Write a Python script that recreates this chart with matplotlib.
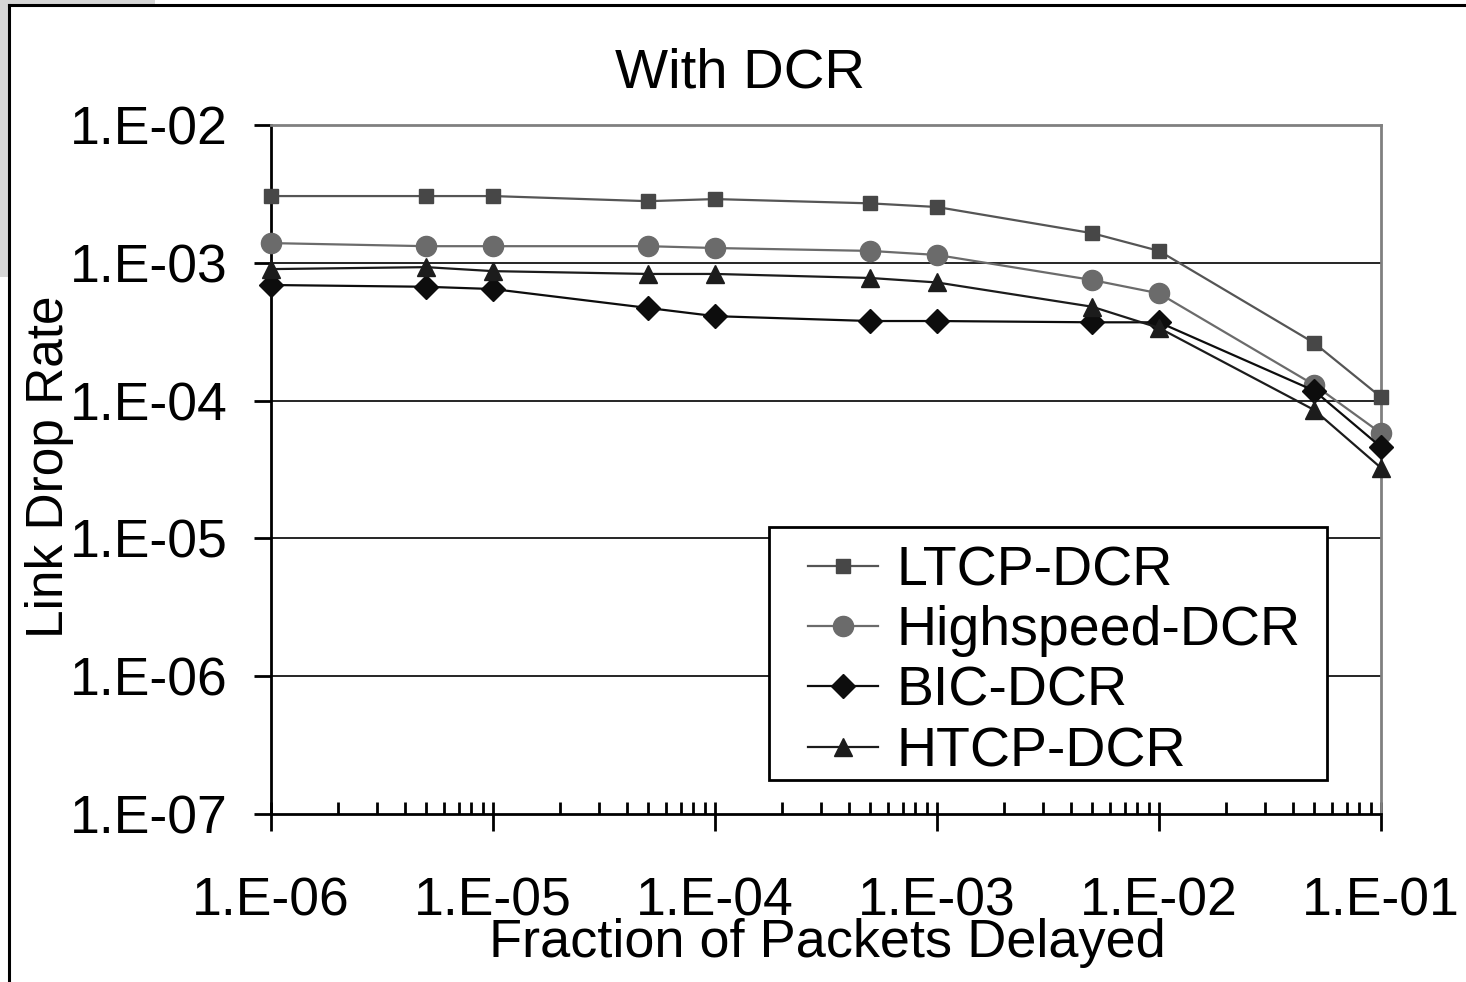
import matplotlib
matplotlib.use('Agg')
import matplotlib.pyplot as plt
from matplotlib.ticker import FixedLocator, NullFormatter, NullLocator
from matplotlib.patches import Rectangle
from matplotlib.lines import Line2D
import numpy as np

plt.rcParams['font.family'] = ['Liberation Sans', 'DejaVu Sans']

# fraction of packets delayed
frac_delayed = [1e-6, 5e-6, 1e-5, 5e-5, 1e-4, 5e-4, 1e-3, 5e-3, 1e-2, 5e-2, 1e-1]

# link drop rate per protocol
ltcp = [3.05e-3, 3.05e-3, 3.05e-3, 2.8e-3, 2.9e-3, 2.7e-3, 2.54e-3, 1.64e-3, 1.22e-3, 2.62e-4, 1.06e-4]
highspeed = [1.39e-3, 1.32e-3, 1.32e-3, 1.32e-3, 1.28e-3, 1.22e-3, 1.14e-3, 7.5e-4, 6.0e-4, 1.3e-4, 5.8e-5]
bic = [6.9e-4, 6.7e-4, 6.45e-4, 4.7e-4, 4.1e-4, 3.78e-4, 3.78e-4, 3.7e-4, 3.7e-4, 1.18e-4, 4.6e-5]
htcp = [9.0e-4, 9.3e-4, 8.7e-4, 8.3e-4, 8.3e-4, 7.76e-4, 7.2e-4, 4.8e-4, 3.37e-4, 8.55e-5, 3.25e-5]

x_ticks = [1e-6, 1e-5, 1e-4, 1e-3, 1e-2, 1e-1]
x_tick_labels = ['1.E-06', '1.E-05', '1.E-04', '1.E-03', '1.E-02', '1.E-01']
y_ticks = [1e-7, 1e-6, 1e-5, 1e-4, 1e-3, 1e-2]
y_tick_labels = ['1.E-07', '1.E-06', '1.E-05', '1.E-04', '1.E-03', '1.E-02']

W, H = 1466, 982
fig = plt.figure(figsize=(W / 100, H / 100), dpi=100)

# screenshot frame bits
fig.patches.append(Rectangle((0, 1 - 5 / H), 155 / W, 5 / H, transform=fig.transFigure,
                             facecolor='#d6d6d6', edgecolor='none'))
fig.patches.append(Rectangle((0, 1 - 277 / H), 8 / W, 277 / H, transform=fig.transFigure,
                             facecolor='#d6d6d6', edgecolor='none'))
fig.lines.append(Line2D([9 / W, 9 / W], [0, 1 - 5 / H], transform=fig.transFigure, color='black', lw=2.2))
fig.lines.append(Line2D([9 / W, 1], [1 - 5 / H, 1 - 5 / H], transform=fig.transFigure, color='black', lw=2.2))

ax = fig.add_axes([271 / W, 1 - 814 / H, (1381 - 271) / W, (814 - 125) / H])
ax.set_xscale('log')
ax.set_yscale('log')
ax.set_xlim(1e-6, 1e-1)
ax.set_ylim(1e-7, 1e-2)

series = [
    ('LTCP-DCR', ltcp, 's', '#474747', '#555555', 10.5),
    ('Highspeed-DCR', highspeed, 'o', '#6b6b6b', '#6b6b6b', 14.5),
    ('BIC-DCR', bic, 'D', '#0d0d0d', '#0d0d0d', 12.5),
    ('HTCP-DCR', htcp, '^', '#1c1c1c', '#1c1c1c', 13.5),
]
for name, vals, mk, mc, lc, ms in series:
    ax.plot(frac_delayed, vals, color=lc, lw=1.6, marker=mk, markersize=ms,
            markerfacecolor=mc, markeredgecolor=mc, label=name, clip_on=False, zorder=3)

# grid
for yv in y_ticks[1:-1]:
    ax.axhline(yv, color='black', lw=1.2, zorder=1)

ax.spines['top'].set_color('#808080')
ax.spines['right'].set_color('#808080')
for s in ['top', 'right']:
    ax.spines[s].set_linewidth(2)
for s in ['left', 'bottom']:
    ax.spines[s].set_linewidth(2)
    ax.spines[s].set_color('black')

ax.xaxis.set_major_locator(FixedLocator(x_ticks))
ax.set_xticklabels(x_tick_labels)
minor_x = []
for d in x_ticks[:-1]:
    minor_x += [d * k for k in range(1, 10)]
minor_x.append(1e-1)
ax.xaxis.set_minor_locator(FixedLocator(minor_x))
ax.xaxis.set_minor_formatter(NullFormatter())
ax.xaxis.remove_overlapping_locs = False
ax.tick_params(axis='x', which='major', direction='out', length=12, width=2, pad=33,
               labelsize=38.5, color='black')
ax.tick_params(axis='x', which='minor', direction='in', length=8.6, width=2, color='black')

ax.yaxis.set_major_locator(FixedLocator(y_ticks))
ax.set_yticklabels(y_tick_labels)
ax.yaxis.set_minor_locator(NullLocator())
ax.tick_params(axis='y', which='major', direction='out', length=12, width=2, pad=19,
               labelsize=38.5, color='black')

# legend frame drawn separately (Excel-style: wide side padding, tight top/bottom)
ax.add_patch(Rectangle((0.4486, 0.0493), 0.5027, 0.3672, transform=ax.transAxes,
                       facecolor='white', edgecolor='black', lw=2, zorder=4))
leg = ax.legend(loc='upper left', bbox_to_anchor=(0.4838, 0.3904), borderaxespad=0,
                fontsize=40, frameon=False, handlelength=1.26,
                handletextpad=0.34, labelspacing=0.15, borderpad=0)
leg.set_zorder(5)

fig.text(740 / W, 1 - 73 / H, 'With DCR', fontsize=40.5, ha='center', va='center')
fig.text(827 / W, 1 - 943 / H, 'Fraction of Packets Delayed', fontsize=39, ha='center', va='center')
fig.text(50 / W, 1 - 467 / H, 'Link Drop Rate', fontsize=37, ha='center', va='center', rotation=90)

fig.savefig('out.png', dpi=100)
